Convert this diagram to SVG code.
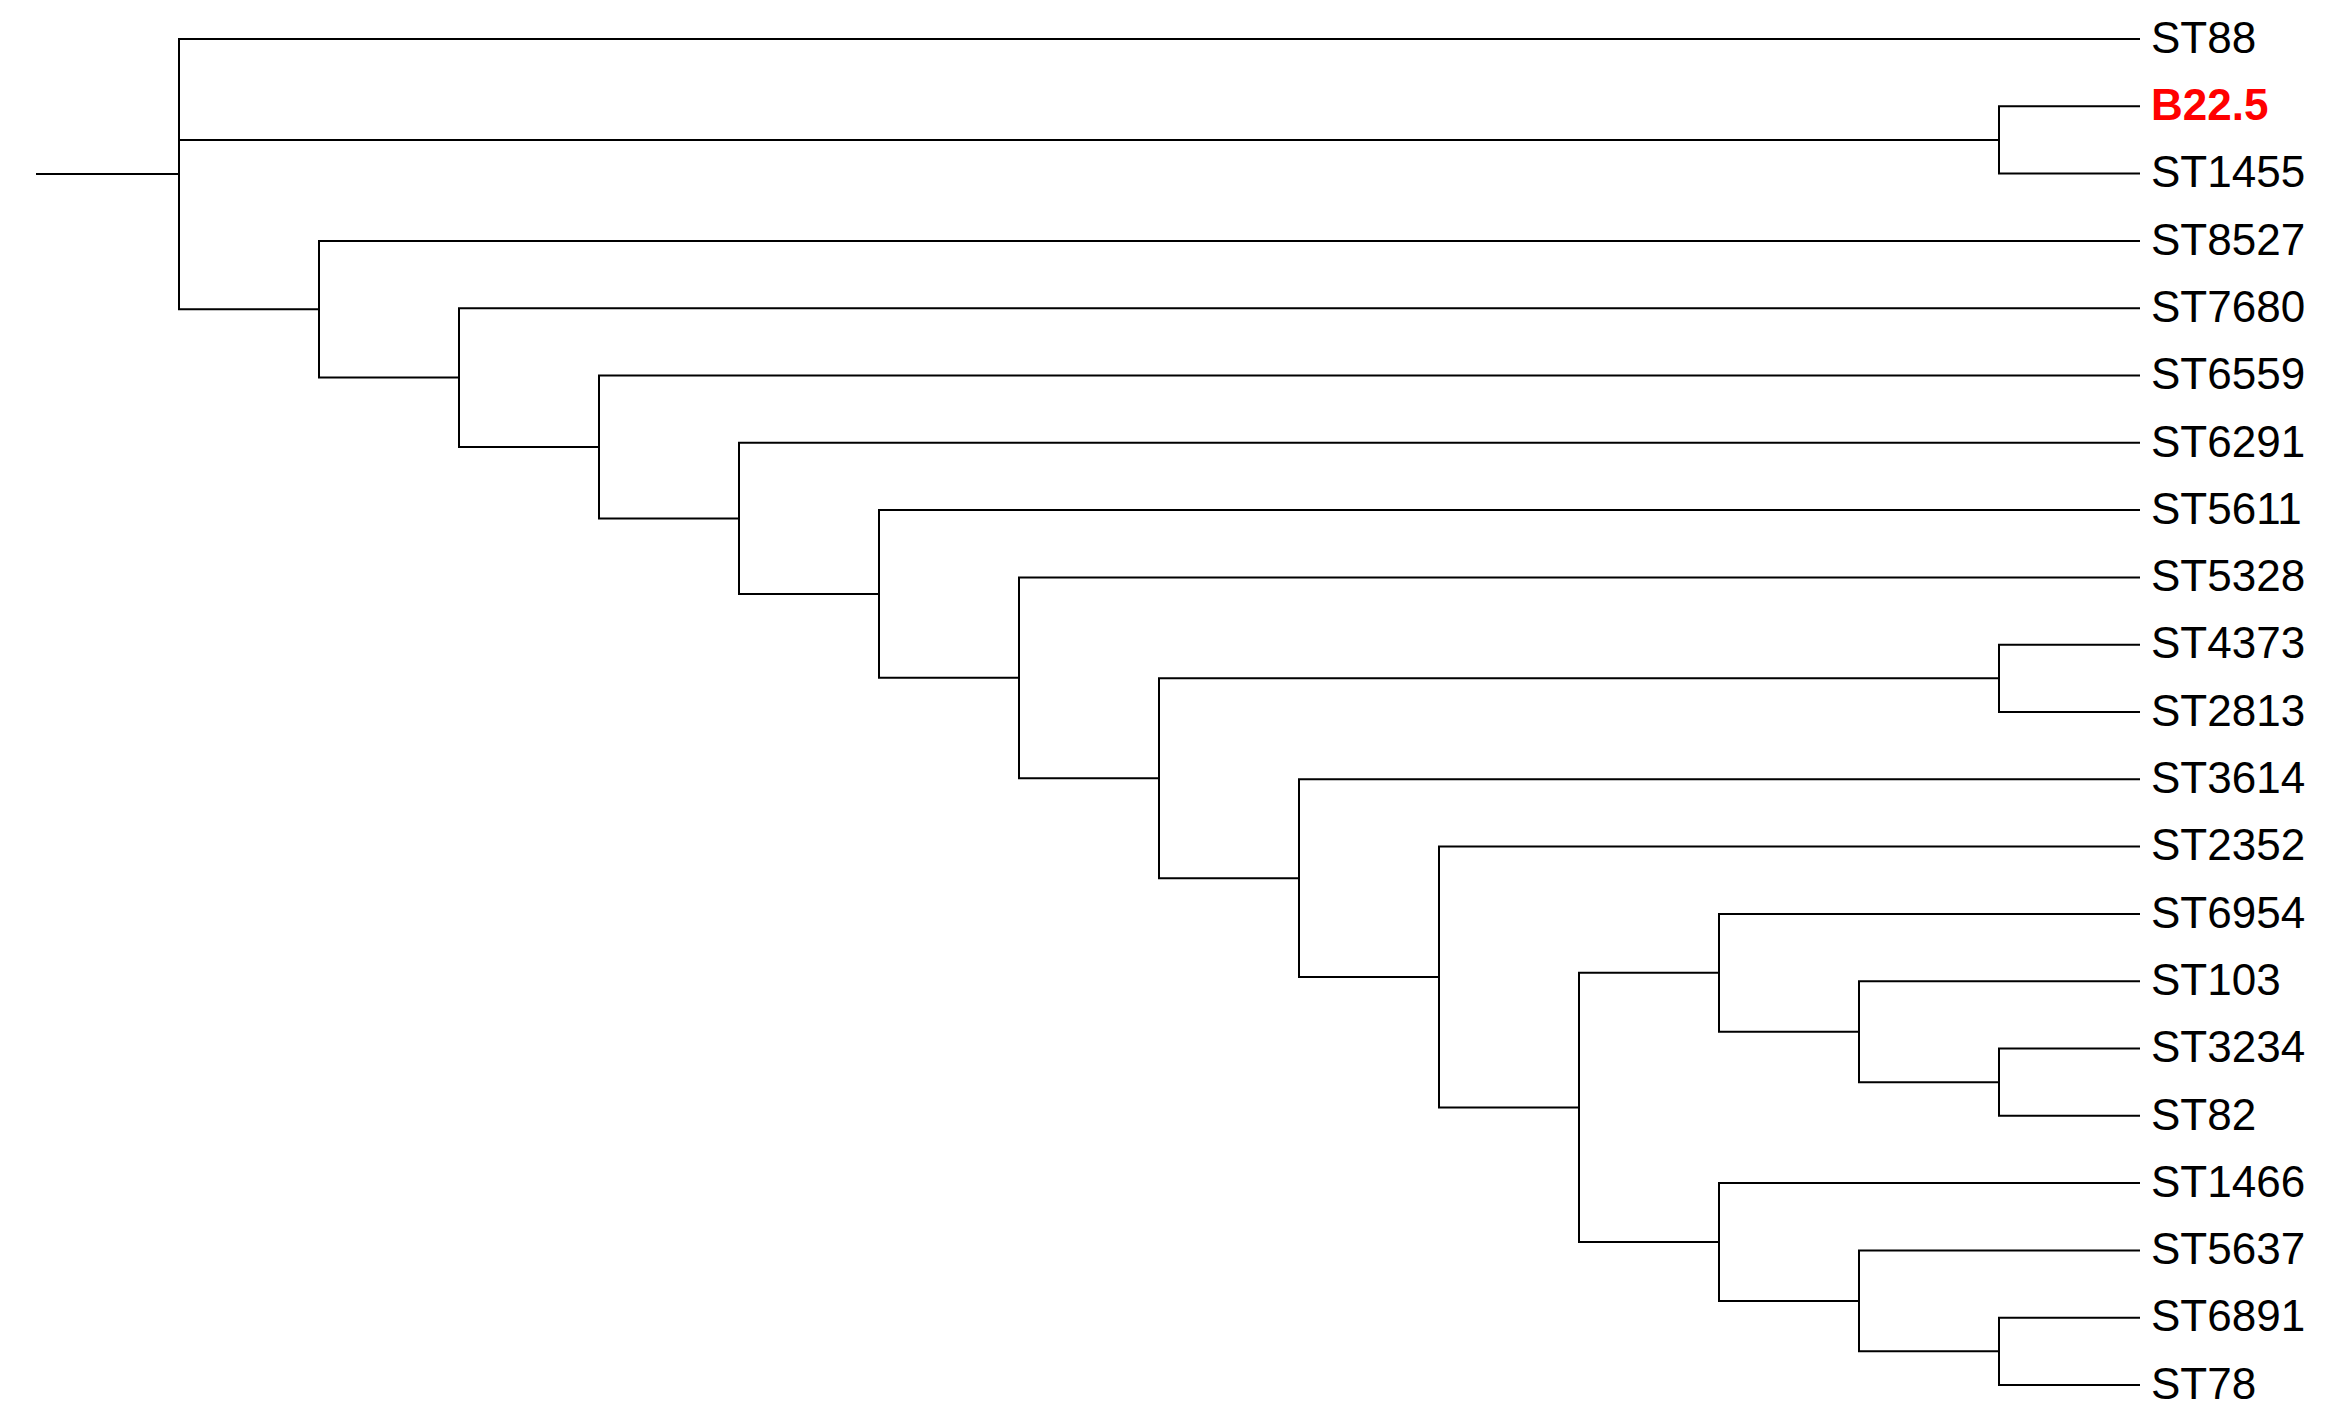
<svg xmlns="http://www.w3.org/2000/svg" width="2334" height="1423" viewBox="0 0 2334 1423">
<style>
.br{fill:none;stroke:#000;stroke-width:2;stroke-linejoin:miter;stroke-linecap:square}
.lb{font-family:"Liberation Sans",Arial,sans-serif;font-size:44px;fill:#000}
.hl{font-weight:bold;fill:#ff0000}
</style>
<rect width="2334" height="1423" fill="#fff"/>
<g id="connectors" class="br">
<path d="M37 174.12 H179"/>
<path d="M2139 39 H179 V309.24 H319"/>
<path d="M179 139.95 H1999"/>
<path d="M2139 106.3 H1999 V173.6 H2139"/>
<path d="M2139 240.9 H319 V377.57 H459"/>
<path d="M2139 308.2 H459 V446.94 H599"/>
<path d="M2139 375.5 H599 V518.38 H739"/>
<path d="M2139 442.8 H739 V593.96 H879"/>
<path d="M2139 510.1 H879 V677.83 H1019"/>
<path d="M2139 577.4 H1019 V778.25 H1159"/>
<path d="M1999 678.35 H1159 V878.15 H1299"/>
<path d="M2139 644.7 H1999 V712 H2139"/>
<path d="M2139 779.3 H1299 V977 H1439"/>
<path d="M2139 846.6 H1439 V1107.39 H1579"/>
<path d="M1719 972.79 H1579 V1241.99 H1719"/>
<path d="M2139 913.9 H1719 V1031.68 H1859"/>
<path d="M2139 981.2 H1859 V1082.15 H1999"/>
<path d="M2139 1048.5 H1999 V1115.8 H2139"/>
<path d="M2139 1183.1 H1719 V1300.88 H1859"/>
<path d="M2139 1250.4 H1859 V1351.35 H1999"/>
<path d="M2139 1317.7 H1999 V1385 H2139"/>
</g>
<g id="ST88"><text class="lb" x="2151" y="52.7">ST88</text></g>
<g id="B22.5"><text class="lb hl" x="2151" y="120">B22.5</text></g>
<g id="ST1455"><text class="lb" x="2151" y="187.3">ST1455</text></g>
<g id="ST8527"><text class="lb" x="2151" y="254.6">ST8527</text></g>
<g id="ST7680"><text class="lb" x="2151" y="321.9">ST7680</text></g>
<g id="ST6559"><text class="lb" x="2151" y="389.2">ST6559</text></g>
<g id="ST6291"><text class="lb" x="2151" y="456.5">ST6291</text></g>
<g id="ST5611"><text class="lb" x="2151" y="523.8">ST5611</text></g>
<g id="ST5328"><text class="lb" x="2151" y="591.1">ST5328</text></g>
<g id="ST4373"><text class="lb" x="2151" y="658.4">ST4373</text></g>
<g id="ST2813"><text class="lb" x="2151" y="725.7">ST2813</text></g>
<g id="ST3614"><text class="lb" x="2151" y="793">ST3614</text></g>
<g id="ST2352"><text class="lb" x="2151" y="860.3">ST2352</text></g>
<g id="ST6954"><text class="lb" x="2151" y="927.6">ST6954</text></g>
<g id="ST103"><text class="lb" x="2151" y="994.9">ST103</text></g>
<g id="ST3234"><text class="lb" x="2151" y="1062.2">ST3234</text></g>
<g id="ST82"><text class="lb" x="2151" y="1129.5">ST82</text></g>
<g id="ST1466"><text class="lb" x="2151" y="1196.8">ST1466</text></g>
<g id="ST5637"><text class="lb" x="2151" y="1264.1">ST5637</text></g>
<g id="ST6891"><text class="lb" x="2151" y="1331.4">ST6891</text></g>
<g id="ST78"><text class="lb" x="2151" y="1398.7">ST78</text></g>
</svg>
